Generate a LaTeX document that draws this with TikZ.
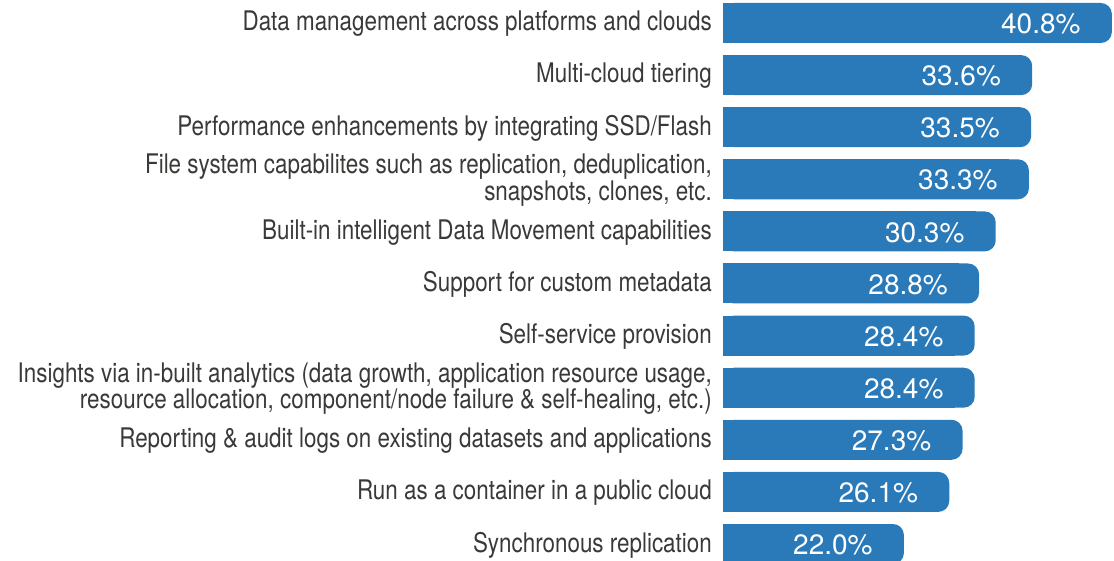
\documentclass[tikz,border=0pt]{standalone}
\usepackage{fontspec}
\setmainfont{TeX Gyre Heros}
\newfontfamily\labelfont{TeX Gyre Heros}[FakeStretch=0.83]
\newfontfamily\numfont{TeX Gyre Heros}
\definecolor{barblue}{HTML}{2A7AB9}
\definecolor{labelgray}{HTML}{3B3938}
\tikzset{
  barlabel/.style={anchor=east, inner sep=0pt, align=right, text=labelgray,
    font=\labelfont\fontsize{27}{25}\selectfont},
  barvalue/.style={inner sep=0pt, text=white, font=\numfont\fontsize{28}{28}\selectfont},
}
\begin{document}
\begin{tikzpicture}[x=1pt,y=-1pt]
\useasboundingbox (0,0) rectangle (1114,561);
\clip (0,0) rectangle (1114,561);
\foreach \v/\t [count=\i from 0] in {
  40.8/{Data management across platforms and clouds},
  33.6/{Multi-cloud tiering},
  33.5/{Performance enhancements by integrating SSD/Flash},
  33.3/{File system capabilites such as replication, deduplication,\\snapshots, clones, etc.},
  30.3/{Built-in intelligent Data Movement capabilities},
  28.8/{Support for custom metadata},
  28.4/{Self-service provision},
  28.4/{Insights via in-built analytics (data growth, application resource usage,\\resource allocation, component/node failure \& self-healing, etc.)},
  27.3/{Reporting \& audit logs on existing datasets and applications},
  26.1/{Run as a container in a public cloud},
  22.0/{Synchronous replication}} {
  \pgfmathsetmacro{\top}{3+52.1*\i}
  \pgfmathsetmacro{\bot}{\top+40}
  \pgfmathsetmacro{\mid}{\top+20}
  \pgfmathsetmacro{\r}{660.6+11.06*\v}
  \fill[barblue, rounded corners=11pt] (723,\top) rectangle (\r,\bot);
  \fill[barblue] (723,\top) rectangle (\r-20,\bot);
  \node[barvalue] (v\i) at (\r-71,\mid+1) {\v\%};
  \node[barlabel] (l\i) at (712,\mid+1) {\t};
}
\end{tikzpicture}
\end{document}
